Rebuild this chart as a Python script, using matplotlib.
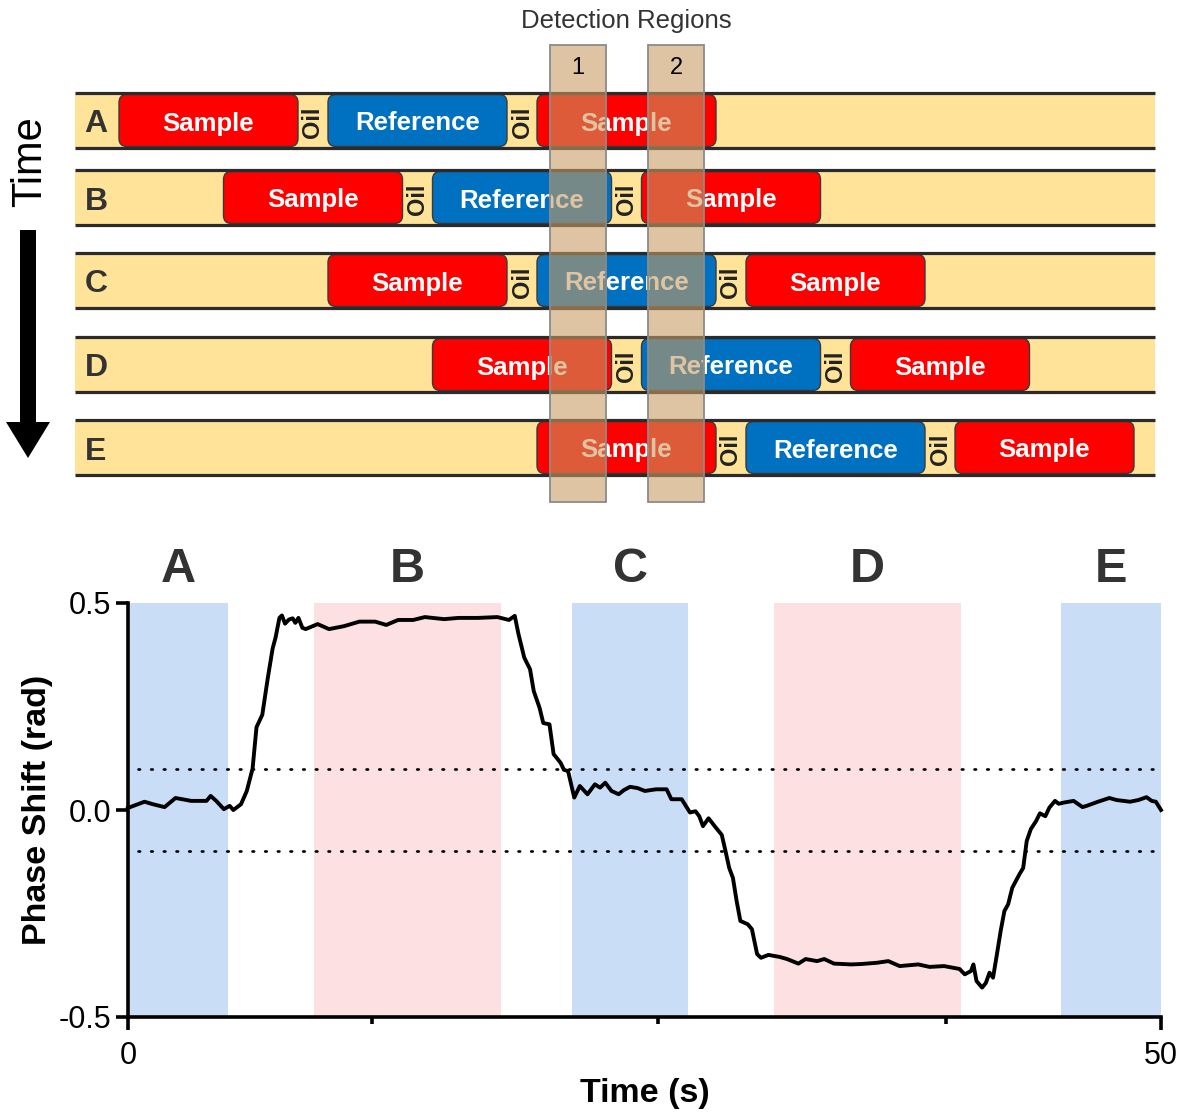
import numpy as np
import matplotlib.pyplot as plt
from matplotlib.patches import Rectangle, FancyBboxPatch, FancyArrow

plt.rcParams['font.family'] = ['Liberation Sans', 'DejaVu Sans']

# ---- schematic data ----
rows = ['A', 'B', 'C', 'D', 'E']
segments = ['Sample', 'Oil', 'Reference', 'Oil', 'Sample']
region_names = ['1', '2']

# ---- phase trace (time in s, phase shift in rad) ----
t = [0, 0.8, 1.2, 1.77, 2.3, 3.06, 3.8, 4.0, 4.27, 4.64, 4.92, 5.1, 5.47, 5.75,
     6.03, 6.22, 6.5, 6.77, 7.0, 7.14, 7.33, 7.45, 7.6, 7.79, 7.97, 8.1, 8.25,
     8.44, 8.6, 9.18, 9.73, 10.45, 11.2, 11.96, 12.5, 13.07, 13.8, 14.37, 15.3,
     16.0, 16.95, 17.88, 18.44, 18.72, 18.9, 19.18, 19.46, 19.64, 19.92, 20.1,
     20.4, 20.6, 20.94, 21.1, 21.3, 21.6, 21.87, 22.24, 22.6, 22.85, 23.1, 23.4,
     23.75, 24.0, 24.3, 24.66, 25.02, 25.56, 26.07, 26.3, 26.8, 27.2, 27.47,
     27.65, 27.83, 28.1, 28.46, 28.74, 28.92, 29.1, 29.28, 29.46, 29.64, 30.0,
     30.2, 30.45, 30.64, 31.0, 31.55, 31.9, 32.45, 32.8, 33.35, 33.7, 34.17,
     35.0, 35.5, 36.25, 36.8, 37.35, 38.25, 38.8, 39.5, 40.25, 40.5, 40.8,
     40.92, 41.07, 41.34, 41.52, 41.7, 41.87, 42.06, 42.24, 42.42, 42.6, 42.8,
     42.97, 43.15, 43.33, 43.5, 43.7, 43.95, 44.14, 44.4, 44.6, 44.87, 45.05,
     45.3, 45.77, 46.2, 46.4, 46.95, 47.5, 47.86, 48.5, 48.9, 49.3, 49.55,
     49.75, 50.0]
phase = [0.005, 0.02, 0.014, 0.007, 0.029, 0.022, 0.022, 0.034, 0.022, 0.002,
         0.01, 0.0, 0.014, 0.046, 0.10, 0.20, 0.23, 0.32, 0.39, 0.416, 0.464,
         0.47, 0.45, 0.46, 0.463, 0.452, 0.464, 0.44, 0.437, 0.449, 0.437,
         0.444, 0.455, 0.455, 0.447, 0.459, 0.459, 0.466, 0.461, 0.464, 0.464,
         0.466, 0.459, 0.469, 0.425, 0.368, 0.34, 0.287, 0.247, 0.21, 0.207,
         0.135, 0.114, 0.097, 0.094, 0.03, 0.058, 0.038, 0.062, 0.054, 0.066,
         0.046, 0.038, 0.048, 0.056, 0.053, 0.046, 0.05, 0.05, 0.026, 0.026,
         -0.006, -0.003, -0.015, -0.039, -0.02, -0.043, -0.06, -0.099, -0.14,
         -0.164, -0.22, -0.268, -0.276, -0.288, -0.348, -0.357, -0.35, -0.355,
         -0.36, -0.371, -0.36, -0.365, -0.36, -0.371, -0.373, -0.372, -0.369,
         -0.365, -0.377, -0.373, -0.379, -0.377, -0.384, -0.397, -0.389,
         -0.373, -0.413, -0.429, -0.418, -0.393, -0.405, -0.348, -0.292,
         -0.244, -0.228, -0.188, -0.172, -0.155, -0.14, -0.075, -0.046,
         -0.027, -0.008, -0.015, 0.006, 0.022, 0.015, 0.018, 0.022, 0.007,
         0.01, 0.02, 0.029, 0.024, 0.02, 0.024, 0.031, 0.022, 0.02, 0.0]

# droplet windows shaded in the trace
win_labels = ['A', 'B', 'C', 'D', 'E']
win_start = [0.0, 9.0, 21.5, 31.27, 45.16]
win_end = [4.84, 18.05, 27.1, 40.3, 50.0]
threshold = 0.1

# ---- colours ----
yellow = '#fee399'
red = '#ff0000'
blue = '#0070c0'
tan = (200 / 255, 156 / 255, 98 / 255)
light_blue = '#c9def6'
light_pink = '#fde0e2'
dark = '#333333'

fig = plt.figure(figsize=(11.87, 11.14), dpi=100)

# ---------------- schematic (pixel-like units) ----------------
W, H_top = 1187, 515
ax0 = fig.add_axes([0, 1 - H_top / 1114, 1, H_top / 1114])
ax0.set_xlim(0, W)
ax0.set_ylim(H_top, 0)
ax0.axis('off')

band_x0, band_x1 = 75, 1155
band_h = 55
row_top = [93, 170, 253, 337, 420]
first_start, row_shift = 119, 104.5
seg_w = {'Sample': 179, 'Reference': 179, 'Oil': 30}
seg_col = {'Sample': red, 'Reference': blue}

for i, name in enumerate(rows):
    top = row_top[i]
    ax0.add_patch(Rectangle((band_x0, top), band_x1 - band_x0, band_h,
                            facecolor=yellow, edgecolor='none', zorder=1))
    ax0.plot([band_x0, band_x1], [top, top], color='#2b2b2b', lw=2.3, zorder=3,
             solid_capstyle='butt')
    ax0.plot([band_x0, band_x1], [top + band_h, top + band_h], color='#2b2b2b',
             lw=2.3, zorder=3, solid_capstyle='butt')
    cy = top + band_h / 2 + 3
    ax0.text(96, cy + 1, name, fontsize=23, fontweight='bold',
             color=dark, ha='center', va='center', zorder=4)
    x = first_start + i * row_shift
    for seg in segments:
        w = seg_w[seg]
        if seg == 'Oil':
            ax0.text(x + w / 2, cy - 1, 'Oil', rotation=90, fontsize=17,
                     fontweight='bold', color='#222222', ha='center',
                     va='center', zorder=4)
        else:
            ax0.add_patch(FancyBboxPatch((x, top + 1.5), w, band_h - 3,
                                         boxstyle='round,pad=0,rounding_size=8',
                                         facecolor=seg_col[seg],
                                         edgecolor='#3a3a3a', lw=1.0, zorder=2))
            ax0.text(x + w / 2, cy, seg, fontsize=18.5, fontweight='bold',
                     color='white', ha='center', va='center', zorder=4)
        x += w

# detection regions
det_x = [550, 648]
det_w = 56
det_top, det_bot = 45, 502
for xd, lab in zip(det_x, region_names):
    ax0.add_patch(Rectangle((xd, det_top), det_w, det_bot - det_top,
                            facecolor=tan, alpha=0.59, edgecolor='none',
                            zorder=5))
    ax0.add_patch(Rectangle((xd, det_top), det_w, det_bot - det_top,
                            facecolor='none', edgecolor='#8a8a8a', lw=1.3,
                            zorder=6))
    ax0.text(xd + det_w / 2, 68, lab, fontsize=17, color='black',
             ha='center', va='center', zorder=7)
ax0.text(626, 21, 'Detection Regions', fontsize=18.5, color=dark,
         ha='center', va='center')

# time arrow
ax0.text(30, 162, 'Time', rotation=90, fontsize=30, color='black',
         ha='center', va='center')
ax0.add_patch(FancyArrow(28, 230, 0, 228, width=16, head_width=44,
                         head_length=36, length_includes_head=True,
                         color='black', lw=0))

# ---------------- phase trace ----------------
ax = fig.add_axes([128 / 1187, 97 / 1114, 1033 / 1187, 414 / 1114])
ax.set_xlim(0, 50)
ax.set_ylim(-0.5, 0.5)

for i, (s, e, lab) in enumerate(zip(win_start, win_end, win_labels)):
    col = light_blue if i % 2 == 0 else light_pink
    ax.axvspan(s, e, color=col, lw=0, zorder=0)
    ax.text((s + e) / 2, 1.08, lab, transform=ax.get_xaxis_transform(),
            fontsize=35, fontweight='bold', color=dark, ha='center',
            va='center')

for yv in (threshold, -threshold):
    ax.plot([0.5, 50], [yv, yv], color='black', lw=1.9,
            linestyle=(0, (0.6, 4.2)), dash_capstyle='round', zorder=1)

ax.plot(t, phase, color='black', lw=2.8, zorder=3, clip_on=False)

for side in ('top', 'right'):
    ax.spines[side].set_visible(False)
for side in ('left', 'bottom'):
    ax.spines[side].set_linewidth(2.6)

ax.set_yticks([-0.5, 0, 0.5])
ax.set_yticklabels(['-0.5', '0.0', '0.5'])
ax.set_xticks([0, 50])
ax.set_xticklabels(['0', '50'])
ax.set_xticks([11.8, 25.65, 39.6], minor=True)
ax.tick_params(axis='both', which='major', length=9, width=2.6,
               labelsize=22, pad=3)
ax.tick_params(axis='x', which='major', pad=8)
ax.tick_params(axis='x', which='minor', length=5, width=2.6)

ax.set_xlabel('Time (s)', fontsize=24.5, fontweight='bold', labelpad=5)
ax.set_ylabel('Phase Shift (rad)', fontsize=24.5, fontweight='bold',
              labelpad=4)

fig.savefig('out.png', dpi=100)
